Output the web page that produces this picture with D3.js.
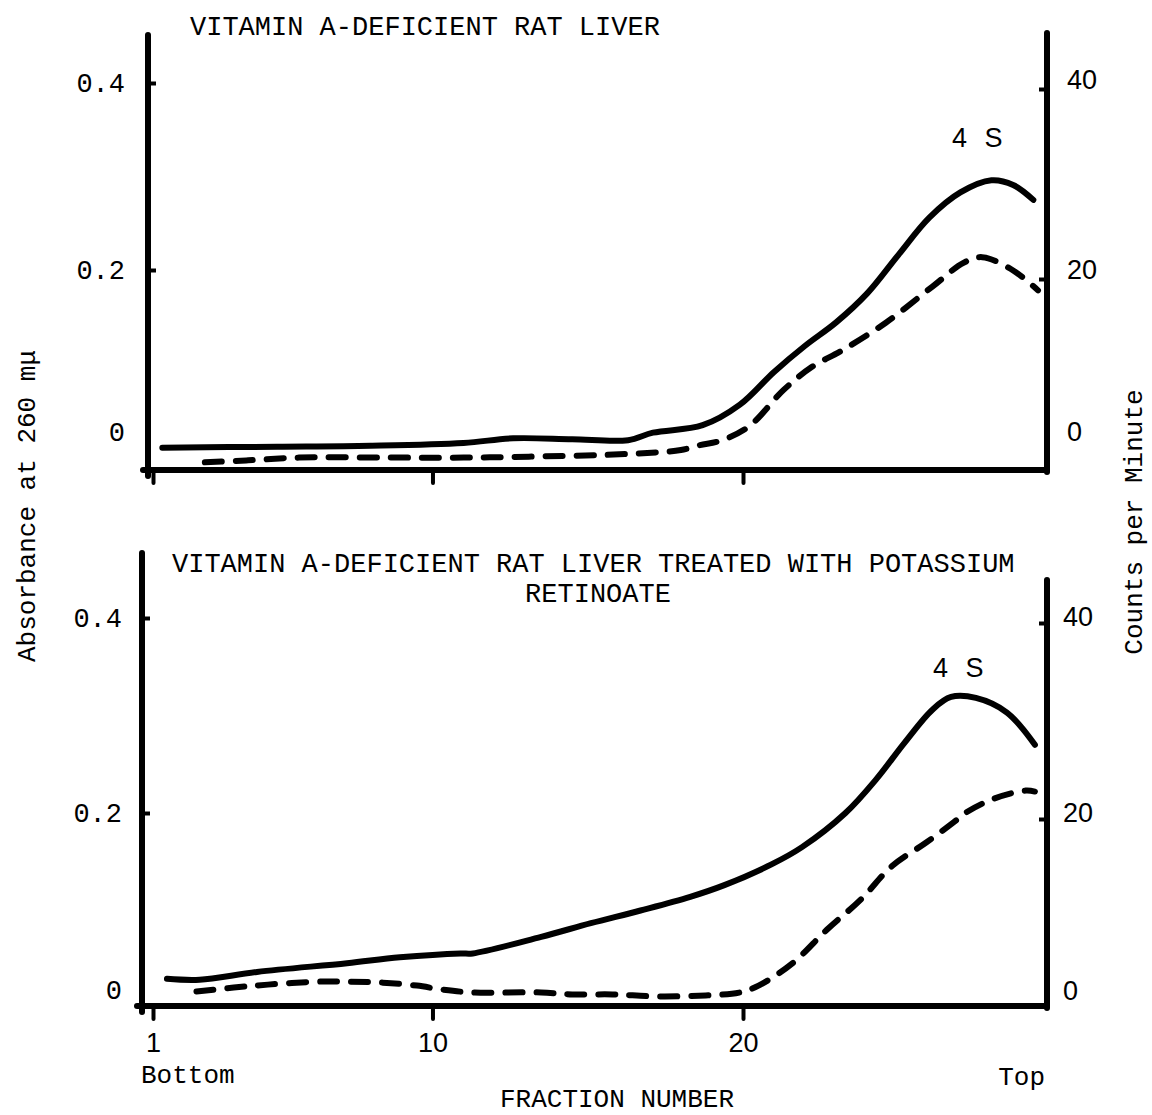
<!DOCTYPE html>
<html>
<head>
<meta charset="utf-8">
<script src="https://cdn.jsdelivr.net/npm/d3@7"></script>
<style>
  body { margin: 0; background: #fff; }
  text { fill: #000; }
</style>
</head>
<body>
<script>
// ---- data ----
const fractionTicks = [1, 10, 20];
const absTicks = [0, 0.2, 0.4];
const cpmTicks = [0, 20, 40];

// top panel: vitamin A-deficient rat liver
const topAbsFraction = [1.3, 5, 8, 11, 12.6, 14.5, 16.3, 17.1, 18.7, 19.9, 21, 22, 23, 24, 25, 26, 27, 28, 28.7, 29.35];
const topAbsValue    = [0.010, 0.011, 0.012, 0.015, 0.020, 0.019, 0.018, 0.026, 0.034, 0.056, 0.091, 0.119, 0.144, 0.175, 0.216, 0.256, 0.283, 0.296, 0.291, 0.275];
const topCpmFraction = [2.67, 4, 5.7, 8.6, 11, 13.1, 16.4, 18, 18.6, 19.3, 20.2, 21.3, 22.2, 23.2, 24.6, 26.1, 27.1, 27.7, 28.7, 29.5];
const topCpmValue    = [0.7, 0.9, 1.2, 1.2, 1.2, 1.3, 1.6, 2.0, 2.5, 3.0, 4.5, 8.3, 10.7, 12.5, 15.4, 19.2, 21.7, 22.3, 20.9, 18.8];

// bottom panel: treated with potassium retinoate
const botAbsFraction = [1.45, 2.5, 4.35, 7.25, 8.95, 10.9, 11.3, 13.5, 15.1, 16.7, 18.3, 19.4, 20.9, 21.9, 23.3, 24.3, 25.2, 26.1, 26.7, 27.5, 28.5, 29.4];
const botAbsValue    = [0.030, 0.029, 0.037, 0.046, 0.052, 0.056, 0.056, 0.073, 0.087, 0.100, 0.114, 0.126, 0.147, 0.165, 0.200, 0.235, 0.272, 0.306, 0.319, 0.318, 0.303, 0.270];
const botCpmFraction = [2.4, 3.6, 4.7, 6.3, 7.3, 8.4, 9.5, 10.3, 11.3, 13.5, 14.5, 15.8, 17.2, 18.8, 19.9, 20.5, 21.6, 22.7, 23.8, 24.8, 25.9, 26.8, 27.2, 28.1, 29.1, 29.4];
const botCpmValue    = [2.4, 2.8, 3.1, 3.4, 3.4, 3.3, 3.0, 2.6, 2.3, 2.3, 2.1, 2.1, 1.9, 2.0, 2.3, 3.0, 5.3, 8.7, 11.8, 15.2, 17.6, 19.7, 20.7, 22.1, 22.9, 22.8];

const width = 1152, height = 1115;
const mono = "'Courier New', 'Liberation Mono', monospace";
const sans = "'Liberation Sans', Arial, sans-serif";

const x = d3.scaleLinear().domain([1, 20]).range([153, 743]);

const svg = d3.select("body").append("svg")
    .attr("width", width)
    .attr("height", height);

const panels = [
  {
    titles: [{ text: "VITAMIN A-DEFICIENT RAT LIVER", x: 190, y: 35, anchor: "start" }],
    abs: d3.zip(topAbsFraction, topAbsValue),
    cpm: d3.zip(topCpmFraction, topCpmValue),
    absY: d3.scaleLinear().domain([0, 0.4]).range([457, 83]),
    cpmY: d3.scaleLinear().domain([0, 40]).range([469, 89]),
    left: 148, right: 1047, leftTop: 35, rightTop: 33, base: 470,
    lPad: 23, rPad: 20, lZeroShift: -25, rShift: -9, rZeroShift: -37,
    peak: { x: 952, y: 147 },
    xLabels: false
  },
  {
    titles: [
      { text: "VITAMIN A-DEFICIENT RAT LIVER TREATED WITH POTASSIUM", x: 172, y: 572, anchor: "start" },
      { text: "RETINOATE", x: 598, y: 602, anchor: "middle" }
    ],
    abs: d3.zip(botAbsFraction, botAbsValue),
    cpm: d3.zip(botCpmFraction, botCpmValue),
    absY: d3.scaleLinear().domain([0, 0.4]).range([1008, 618]),
    cpmY: d3.scaleLinear().domain([0, 40]).range([1015, 623]),
    left: 142, right: 1047, leftTop: 553, rightTop: 580, base: 1006,
    lPad: 20, rPad: 16, lZeroShift: -18, rShift: -6, rZeroShift: -24,
    peak: { x: 933, y: 677 },
    xLabels: true
  }
];

panels.forEach(p => {
  const g = svg.append("g");

  // axis frame
  g.append("line")
      .attr("x1", p.left).attr("x2", p.left)
      .attr("y1", p.leftTop).attr("y2", p.base + 6)
      .attr("stroke", "#000").attr("stroke-width", 6).attr("stroke-linecap", "round");
  g.append("line")
      .attr("x1", p.right).attr("x2", p.right)
      .attr("y1", p.rightTop).attr("y2", p.base + 2)
      .attr("stroke", "#000").attr("stroke-width", 6).attr("stroke-linecap", "round");
  g.append("line")
      .attr("x1", p.left - 5).attr("x2", p.right)
      .attr("y1", p.base).attr("y2", p.base)
      .attr("stroke", "#000").attr("stroke-width", 6).attr("stroke-linecap", "round");

  // left axis (absorbance)
  const yl = g.append("g")
      .attr("transform", "translate(" + p.left + ",0)")
      .call(d3.axisLeft(p.absY).tickValues(absTicks).tickSize(-8).tickPadding(p.lPad)
        .tickFormat(d => d === 0 ? "0" : d.toFixed(1)));
  yl.select(".domain").remove();
  yl.selectAll(".tick line").attr("stroke", "#000").attr("stroke-width", 4)
      .attr("display", d => d === 0 ? "none" : null);
  yl.selectAll(".tick text")
      .attr("font-family", mono).attr("font-size", 27)
      .attr("dy", d => d === 0 ? (p.lZeroShift / 27 + 0.32) + "em" : "0.32em");

  // right axis (counts per minute)
  const yr = g.append("g")
      .attr("transform", "translate(" + p.right + ",0)")
      .call(d3.axisRight(p.cpmY).tickValues(cpmTicks).tickSize(-8).tickPadding(p.rPad));
  yr.select(".domain").remove();
  yr.selectAll(".tick line").attr("stroke", "#000").attr("stroke-width", 4)
      .attr("display", d => d === 0 ? "none" : null);
  yr.selectAll(".tick text")
      .attr("font-family", sans).attr("font-size", 27)
      .attr("dy", d => ((d === 0 ? p.rZeroShift : p.rShift) / 27 + 0.32) + "em");

  // bottom axis (fraction number)
  const xa = g.append("g")
      .attr("transform", "translate(0," + p.base + ")")
      .call(d3.axisBottom(x).tickValues(fractionTicks).tickSize(13).tickPadding(14)
        .tickFormat(p.xLabels ? d3.format("d") : ""));
  xa.select(".domain").remove();
  xa.selectAll(".tick line").attr("stroke", "#000").attr("stroke-width", 4).attr("stroke-linecap", "round");
  xa.selectAll(".tick text").attr("font-family", sans).attr("font-size", 27);

  // curves
  const absLine = d3.line().x(d => x(d[0])).y(d => p.absY(d[1])).curve(d3.curveCatmullRom.alpha(0.5));
  const cpmLine = d3.line().x(d => x(d[0])).y(d => p.cpmY(d[1])).curve(d3.curveCatmullRom.alpha(0.5));

  g.append("path")
      .datum(p.abs)
      .attr("d", absLine)
      .attr("fill", "none").attr("stroke", "#000").attr("stroke-width", 6)
      .attr("stroke-linecap", "round").attr("stroke-linejoin", "round");

  g.append("path")
      .datum(p.cpm)
      .attr("d", cpmLine)
      .attr("fill", "none").attr("stroke", "#000").attr("stroke-width", 6)
      .attr("stroke-dasharray", "17,14").attr("stroke-linecap", "round");

  // titles
  p.titles.forEach(t => {
    g.append("text")
        .attr("x", t.x).attr("y", t.y)
        .attr("text-anchor", t.anchor)
        .attr("font-family", mono).attr("font-size", 27)
        .text(t.text);
  });

  g.append("text")
      .attr("x", p.peak.x).attr("y", p.peak.y)
      .attr("font-family", sans).attr("font-size", 27)
      .attr("word-spacing", 10)
      .text("4 S");
});

// shared labels
svg.append("text")
    .attr("x", 141).attr("y", 1083)
    .attr("font-family", mono).attr("font-size", 26)
    .attr("text-anchor", "start")
    .text("Bottom");

svg.append("text")
    .attr("x", 1045).attr("y", 1085)
    .attr("font-family", mono).attr("font-size", 26)
    .attr("text-anchor", "end")
    .text("Top");

svg.append("text")
    .attr("x", 617).attr("y", 1107)
    .attr("font-family", mono).attr("font-size", 26)
    .attr("text-anchor", "middle")
    .text("FRACTION NUMBER");

svg.append("text")
    .attr("transform", "translate(35,506) rotate(-90)")
    .attr("font-family", mono).attr("font-size", 26)
    .attr("text-anchor", "middle")
    .text("Absorbance at 260 mμ");

svg.append("text")
    .attr("transform", "translate(1142,522) rotate(-90)")
    .attr("font-family", mono).attr("font-size", 26)
    .attr("text-anchor", "middle")
    .text("Counts per Minute");
</script>
</body>
</html>
